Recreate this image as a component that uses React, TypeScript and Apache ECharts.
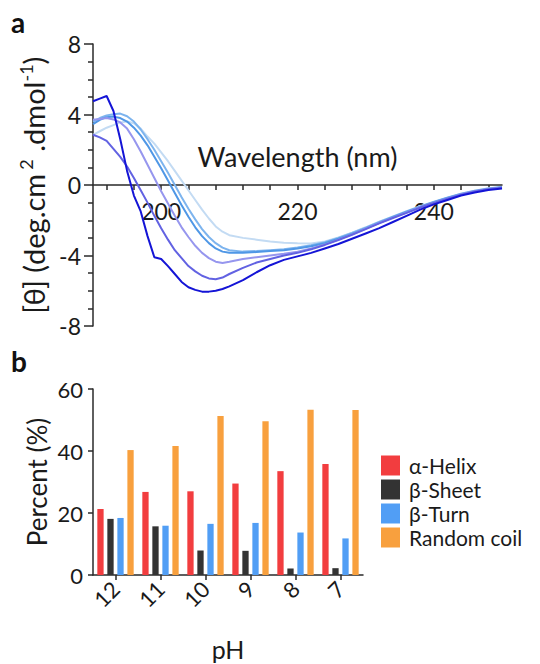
import React, { useEffect, useRef } from "react";
import * as echarts from "echarts";

// ---------- Panel a: CD spectra ----------
const wavelengths = [
  190, 191, 192, 193, 194, 195, 196, 197, 198, 199, 200, 201, 202, 203, 204, 205, 206, 207, 208, 209, 210,
  212, 214, 216, 218, 220, 222, 224, 226, 228, 230, 232, 234, 236, 238, 240, 242, 244, 246, 248, 250,
];
const cdPh12 = [
  4.75, 4.9, 5.05, 4.2, 2.6, 0.8, -0.6, -1.5, -2.9, -4.1, -4.2, -4.6, -5.05, -5.5, -5.8, -5.95, -6.05, -6.05, -6.0, -5.9, -5.75,
  -5.4, -4.95, -4.55, -4.25, -4.05, -3.85, -3.6, -3.35, -3.05, -2.75, -2.45, -2.1, -1.75, -1.4, -1.1, -0.85, -0.6, -0.42, -0.28, -0.2,
];
const cdPh11 = [
  2.85, 2.7, 2.5, 2.05, 1.6, 1.05, 0.4, -0.3, -1.0, -1.75, -2.45, -3.1, -3.7, -4.15, -4.6, -4.9, -5.15, -5.3, -5.35, -5.25, -5.05,
  -4.7, -4.4, -4.2, -4.0, -3.85, -3.65, -3.4, -3.12, -2.82, -2.5, -2.18, -1.87, -1.58, -1.28, -1.02, -0.78, -0.55, -0.37, -0.24, -0.15,
];
const cdPh10 = [
  3.7, 3.75, 3.8, 3.72, 3.55, 3.2, 2.6, 1.9, 1.15, 0.4, -0.35, -1.05, -1.75, -2.4, -2.95, -3.45, -3.85, -4.15, -4.35, -4.42, -4.35,
  -4.2, -4.1, -4.0, -3.9, -3.78, -3.6, -3.38, -3.1, -2.8, -2.48, -2.15, -1.85, -1.56, -1.26, -1.0, -0.76, -0.53, -0.36, -0.23, -0.14,
];
const cdPh9 = [
  3.45, 3.7, 3.85, 3.88, 3.8, 3.6, 3.25, 2.8, 2.25, 1.6, 0.95, 0.25, -0.45, -1.15, -1.8, -2.4, -2.9, -3.3, -3.6, -3.78, -3.85,
  -3.85, -3.8, -3.75, -3.7, -3.6, -3.48, -3.3, -3.05, -2.77, -2.46, -2.14, -1.83, -1.53, -1.24, -0.98, -0.74, -0.52, -0.35, -0.22, -0.13,
];
const cdPh8 = [
  3.6, 3.8, 3.95, 4.02, 4.05, 3.9, 3.6, 3.15, 2.6, 2.0, 1.35, 0.7, 0.0, -0.7, -1.35, -1.95, -2.5, -2.95, -3.3, -3.55, -3.7,
  -3.78, -3.75, -3.7, -3.65, -3.55, -3.42, -3.25, -3.0, -2.72, -2.42, -2.1, -1.8, -1.5, -1.22, -0.96, -0.72, -0.5, -0.33, -0.2, -0.12,
];
const cdPh7 = [
  2.85, 3.05, 3.25, 3.4, 3.55, 3.6, 3.5, 3.2, 2.75, 2.35, 1.85, 1.35, 0.8, 0.25, -0.3, -0.85, -1.4, -1.9, -2.35, -2.65, -2.85,
  -3.0, -3.1, -3.2, -3.27, -3.3, -3.32, -3.2, -2.98, -2.7, -2.4, -2.08, -1.78, -1.48, -1.2, -0.95, -0.71, -0.49, -0.32, -0.19, -0.11,
];
const xTickValues = [192, 196, 200, 204, 208, 212, 216, 220, 224, 228, 232, 236, 240, 244, 248];
const xLabelValues = [200, 220, 240];

// ---------- Panel b: secondary structure ----------
const phCategories = ["12", "11", "10", "9", "8", "7"];
const alphaHelix = [21.3, 26.8, 27.0, 29.5, 33.5, 35.8];
const betaSheet = [18.1, 15.7, 7.9, 7.8, 2.1, 2.2];
const betaTurn = [18.4, 15.9, 16.5, 16.8, 13.7, 11.8];
const randomCoil = [40.3, 41.6, 51.3, 49.6, 53.3, 53.2];

const FONT = "Lato";
const AXIS = "#2a2a2a";
const TXT = "#1a1a1a";

export default function App() {
  const ref = useRef<HTMLDivElement>(null);

  useEffect(() => {
    const chart = echarts.init(ref.current as HTMLDivElement, null, { renderer: "svg" });
    const pair = (arr: number[]) => wavelengths.map((w, i) => [w, arr[i]]);
    const lineSeries = [
      { name: "pH 7", data: cdPh7, color: "#c3dbf3" },
      { name: "pH 8", data: cdPh8, color: "#7db4ee" },
      { name: "pH 9", data: cdPh9, color: "#4f97e6" },
      { name: "pH 10", data: cdPh10, color: "#9696ee" },
      { name: "pH 11", data: cdPh11, color: "#6262e2" },
      { name: "pH 12", data: cdPh12, color: "#1414d6" },
    ].map((s) => ({
      type: "line",
      name: s.name,
      xAxisIndex: 0,
      yAxisIndex: 0,
      data: pair(s.data),
      showSymbol: false,
      symbol: "none",
      lineStyle: { color: s.color, width: 2 },
      itemStyle: { color: s.color },
    }));

    const barCommon = {
      type: "bar",
      xAxisIndex: 1,
      yAxisIndex: 1,
      barWidth: 6.3,
      barGap: "59%",
    };

    chart.setOption({
      animation: false,
      textStyle: { fontFamily: FONT },
      grid: [
        { left: 93, top: 44, width: 409, height: 282 },
        { left: 93, top: 389, width: 270, height: 186 },
      ],
      legend: {
        data: ["α-Helix", "β-Sheet", "β-Turn", "Random coil"],
        orient: "vertical",
        left: 376,
        top: 450,
        itemWidth: 19,
        itemHeight: 20,
        itemGap: 3,
        icon: "rect",
        textStyle: { fontSize: 21, lineHeight: 20, color: TXT, fontFamily: FONT, padding: [0, 0, 0, 4] },
      },
      xAxis: [
        {
          type: "value",
          gridIndex: 0,
          min: 190,
          max: 250,
          offset: -141,
          axisLine: { show: true, onZero: false, lineStyle: { color: AXIS, width: 1.5 } },
          axisTick: { show: true, length: 5, customValues: xTickValues, lineStyle: { color: AXIS, width: 1.5 } },
          axisLabel: { customValues: xLabelValues, fontSize: 23, margin: 14, color: TXT, fontFamily: FONT },
          splitLine: { show: false },
          name: "Wavelength (nm)",
          nameLocation: "middle",
          nameGap: -42,
          nameTextStyle: { fontSize: 27, color: TXT, fontFamily: FONT },
        },
        {
          type: "category",
          gridIndex: 1,
          data: phCategories,
          axisLine: { show: true, lineStyle: { color: AXIS, width: 1.5 } },
          axisTick: { show: true, alignWithLabel: true, length: 5, lineStyle: { color: AXIS, width: 1.5 } },
          axisLabel: { rotate: 45, fontSize: 22, margin: 10, color: TXT, fontFamily: FONT },
          name: "pH",
          nameLocation: "middle",
          nameGap: 61,
          nameTextStyle: { fontSize: 25, color: TXT, fontFamily: FONT },
        },
      ],
      yAxis: [
        {
          type: "value",
          gridIndex: 0,
          min: -8,
          max: 8,
          interval: 4,
          axisLine: { show: true, onZero: false, lineStyle: { color: AXIS, width: 1.5 } },
          axisTick: { show: true, length: 9, lineStyle: { color: AXIS, width: 1.5 } },
          minorTick: { show: true, splitNumber: 4, length: 5, lineStyle: { color: AXIS, width: 1.5 } },
          splitLine: { show: false },
          minorSplitLine: { show: false },
          axisLabel: { fontSize: 23, margin: 12, color: TXT, fontFamily: FONT },
          name: "{b|[θ] (deg.cm}{s| 2}{b| .dmol}{s|-1}{b|)}",
          nameLocation: "middle",
          nameGap: 40,
          nameTextStyle: {
            color: TXT,
            fontFamily: FONT,
            rich: {
              b: { fontSize: 29, lineHeight: 34, color: TXT, fontFamily: FONT },
              s: { fontSize: 18, lineHeight: 18, verticalAlign: "top", color: TXT, fontFamily: FONT },
            },
          },
        },
        {
          type: "value",
          gridIndex: 1,
          min: 0,
          max: 60,
          interval: 20,
          axisLine: { show: true, lineStyle: { color: AXIS, width: 1.5 } },
          axisTick: { show: true, length: 5, lineStyle: { color: AXIS, width: 1.5 } },
          splitLine: { show: false },
          axisLabel: { fontSize: 22, margin: 10, color: TXT, fontFamily: FONT },
          name: "Percent (%)",
          nameLocation: "middle",
          nameGap: 43,
          nameTextStyle: { fontSize: 26, color: TXT, fontFamily: FONT },
        },
      ],
      graphic: [
        { type: "text", left: 11, top: 8, style: { text: "a", font: `bold 28px ${FONT}`, fill: "#111" } },
        { type: "text", left: 11, top: 347, style: { text: "b", font: `bold 28px ${FONT}`, fill: "#111" } },
      ],
      series: [
        ...lineSeries,
        { ...barCommon, name: "α-Helix", data: alphaHelix, itemStyle: { color: "#f23d3f" } },
        { ...barCommon, name: "β-Sheet", data: betaSheet, itemStyle: { color: "#333333" } },
        { ...barCommon, name: "β-Turn", data: betaTurn, itemStyle: { color: "#519ef5" } },
        { ...barCommon, name: "Random coil", data: randomCoil, itemStyle: { color: "#f8a03e" } },
      ],
    });

    return () => chart.dispose();
  }, []);

  return <div ref={ref} style={{ position: "absolute", left: 0, top: 0, width: 540, height: 664 }} />;
}
